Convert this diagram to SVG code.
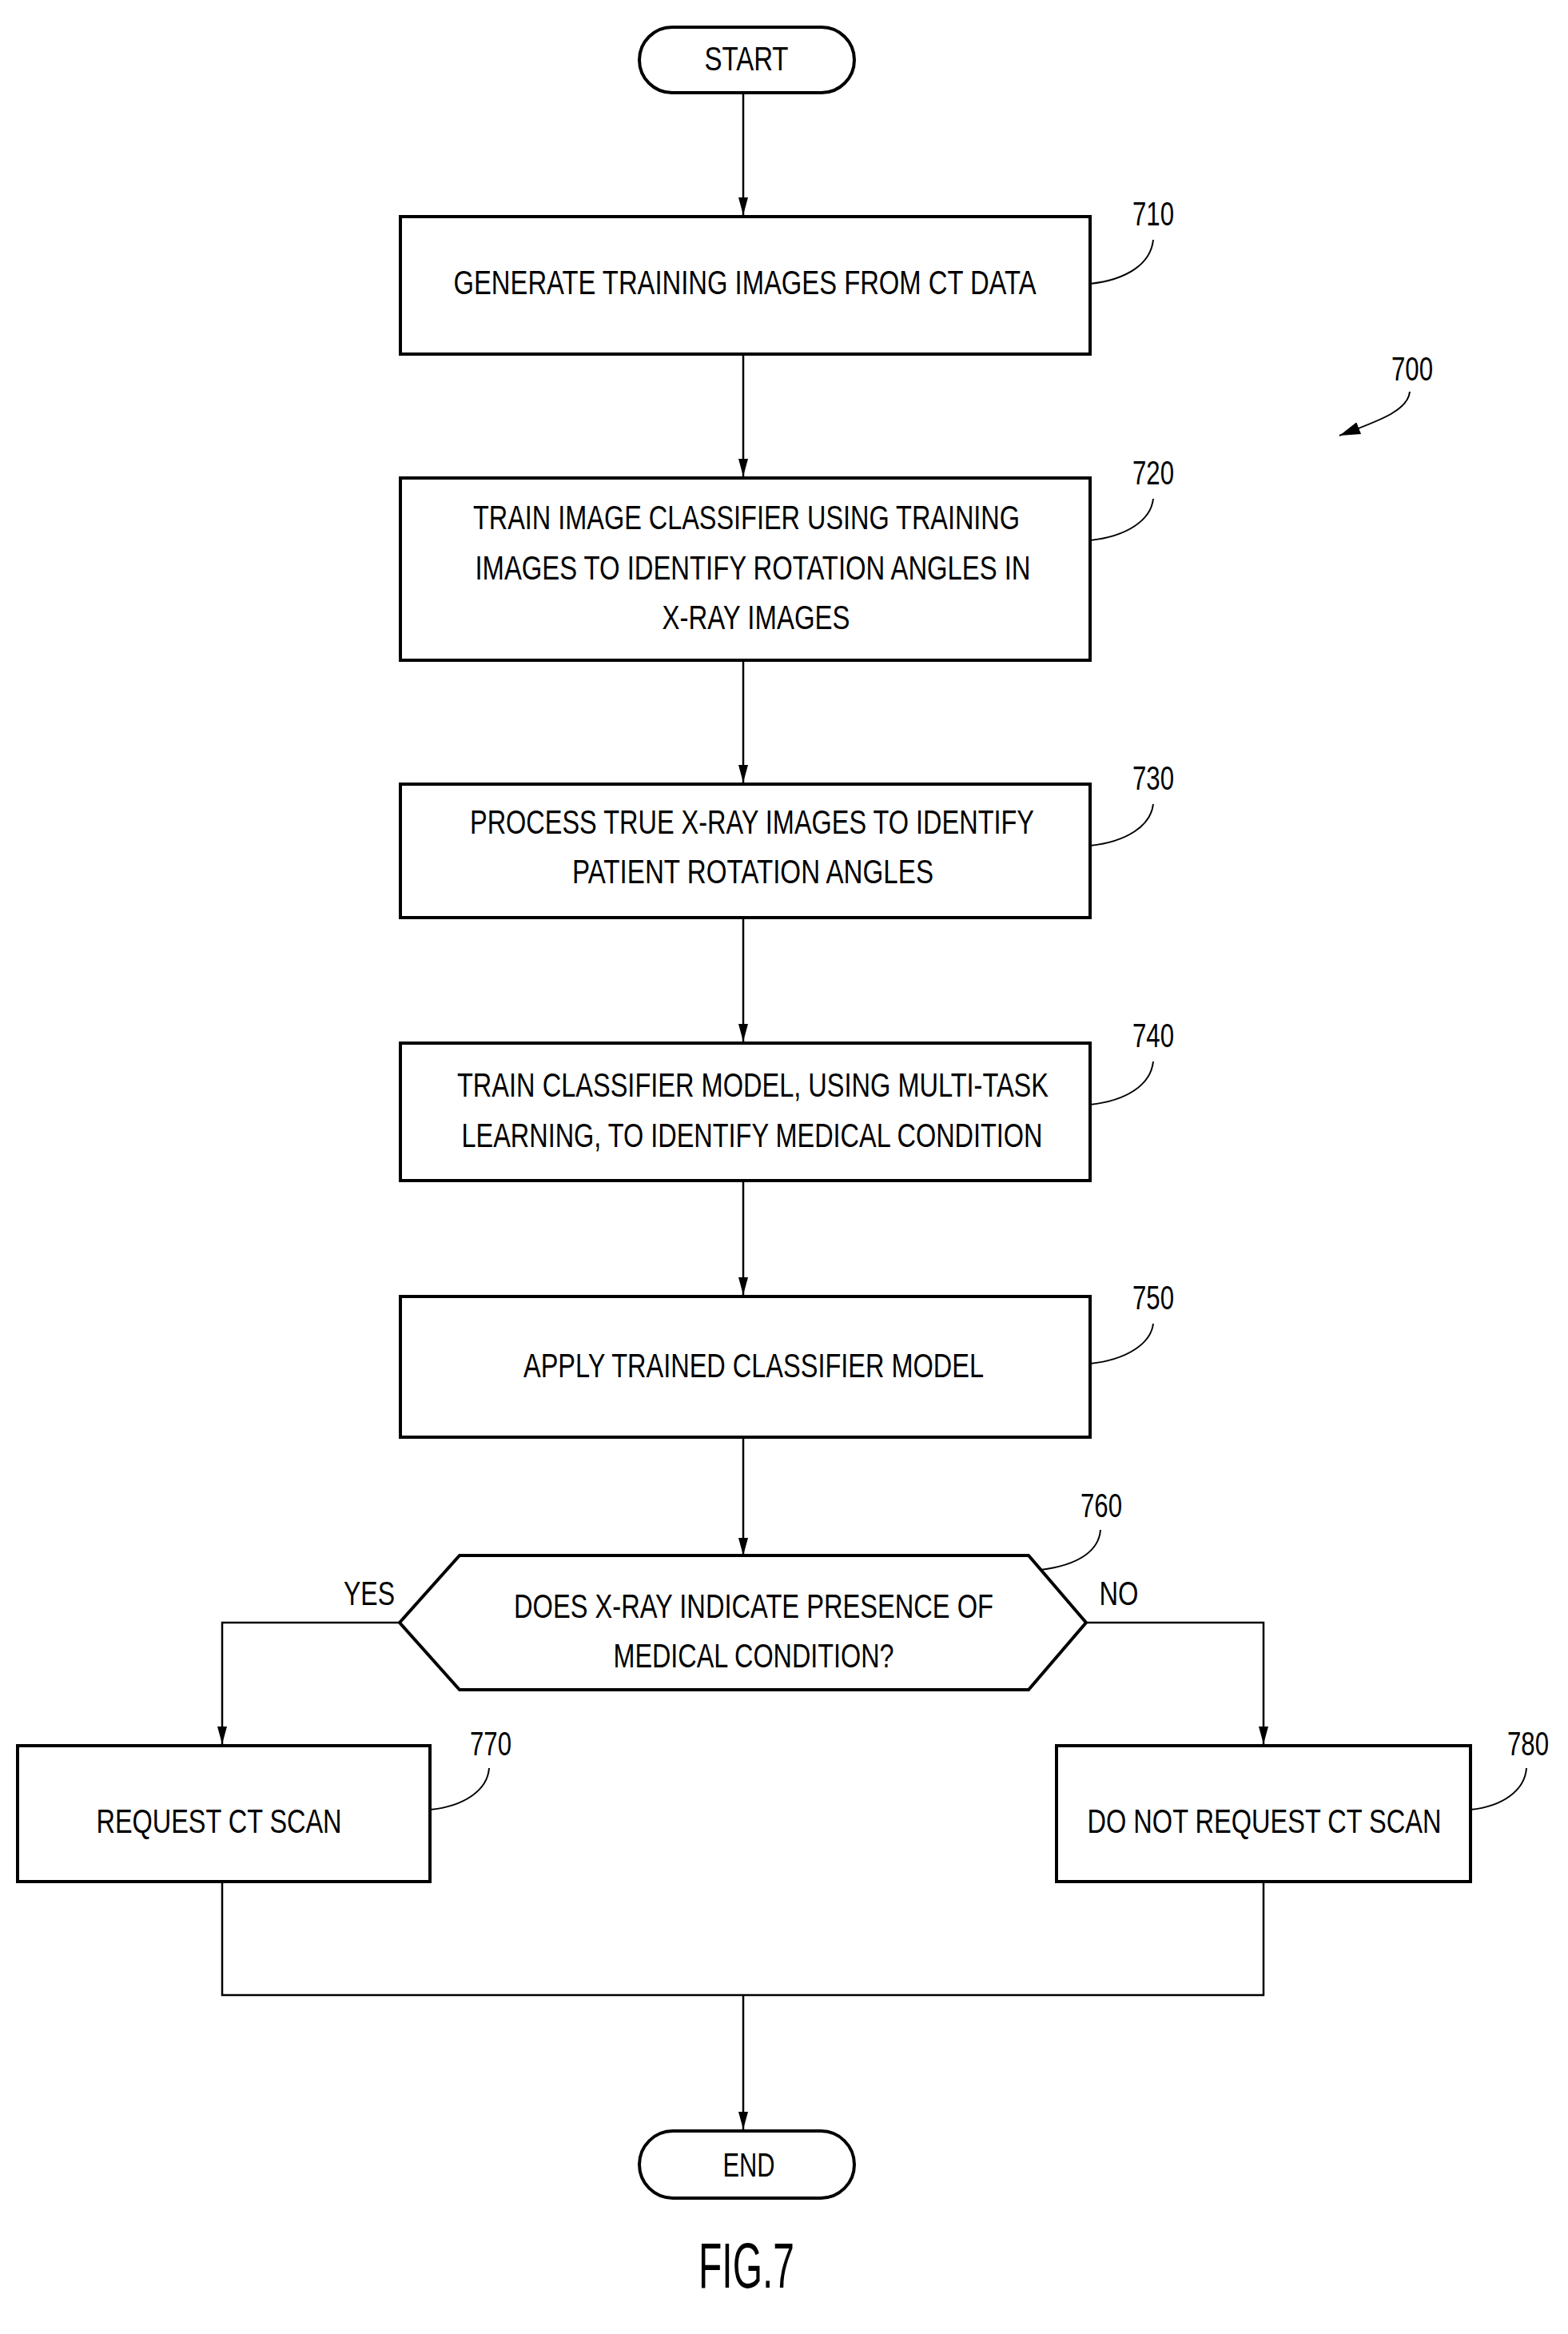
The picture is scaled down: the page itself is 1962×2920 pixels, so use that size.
<svg xmlns="http://www.w3.org/2000/svg" width="1962" height="2920" viewBox="0 0 1962 2920">
<style>
.b{fill:#fff;stroke:#000;stroke-width:4}
.c{fill:none;stroke:#000;stroke-width:2.5}
.l{fill:none;stroke:#000;stroke-width:2}
text{font-family:"Liberation Sans",Arial,sans-serif;font-size:42px;fill:#000;text-anchor:middle}
text.fig{font-size:80px}
</style>
<defs><marker id="a" markerWidth="22" markerHeight="12" refX="22" refY="6" orient="auto" markerUnits="userSpaceOnUse" viewBox="0 0 22 12"><path d="M0,0 L22,6 L0,12 Z" fill="#000"/></marker>
<marker id="a2" markerWidth="26" markerHeight="16" refX="26" refY="8" orient="auto" markerUnits="userSpaceOnUse" viewBox="0 0 26 16"><path d="M0,0 L26,8 L0,16 Z" fill="#000"/></marker></defs>
<g id="connectors">
<path class="c" d="M930,116 V269" marker-end="url(#a)"/>
<path class="c" d="M930,443 V596" marker-end="url(#a)"/>
<path class="c" d="M930,826 V979" marker-end="url(#a)"/>
<path class="c" d="M930,1148 V1303" marker-end="url(#a)"/>
<path class="c" d="M930,1477 V1620" marker-end="url(#a)"/>
<path class="c" d="M930,1798 V1946" marker-end="url(#a)"/>
<path class="c" d="M500,2030 H278 V2182" marker-end="url(#a)"/>
<path class="c" d="M1359,2030 H1581 V2182" marker-end="url(#a)"/>
<path class="c" d="M278,2354 V2496 H1581 V2354"/>
<path class="c" d="M930,2496 V2664" marker-end="url(#a)"/>
</g>
<g id="start"><rect class="b" x="800" y="34" width="269" height="82" rx="41"/><text x="934" y="88" textLength="105" lengthAdjust="spacingAndGlyphs">START</text></g>
<g id="n710"><rect class="b" x="501" y="271" width="863" height="172"/><text x="932" y="368" textLength="729" lengthAdjust="spacingAndGlyphs">GENERATE TRAINING IMAGES FROM CT DATA</text>
<text x="1443" y="282" textLength="52" lengthAdjust="spacingAndGlyphs">710</text><path class="l" d="M1364,355 C1410,350 1440,330 1443,300"/></g>
<g id="n720"><rect class="b" x="501" y="598" width="863" height="228"/>
<text x="934" y="662" textLength="684" lengthAdjust="spacingAndGlyphs">TRAIN IMAGE CLASSIFIER USING TRAINING</text>
<text x="942" y="725" textLength="695" lengthAdjust="spacingAndGlyphs">IMAGES TO IDENTIFY ROTATION ANGLES IN</text>
<text x="946" y="787" textLength="235" lengthAdjust="spacingAndGlyphs">X-RAY IMAGES</text>
<text x="1443" y="606" textLength="52" lengthAdjust="spacingAndGlyphs">720</text><path class="l" d="M1364,676 C1410,671 1440,651 1443,624"/></g>
<g id="n730"><rect class="b" x="501" y="981" width="863" height="167"/>
<text x="941" y="1043" textLength="706" lengthAdjust="spacingAndGlyphs">PROCESS TRUE X-RAY IMAGES TO IDENTIFY</text>
<text x="942" y="1105" textLength="452" lengthAdjust="spacingAndGlyphs">PATIENT ROTATION ANGLES</text>
<text x="1443" y="988" textLength="52" lengthAdjust="spacingAndGlyphs">730</text><path class="l" d="M1364,1058 C1410,1053 1440,1033 1443,1006"/></g>
<g id="n740"><rect class="b" x="501" y="1305" width="863" height="172"/>
<text x="942" y="1372" textLength="740" lengthAdjust="spacingAndGlyphs">TRAIN CLASSIFIER MODEL, USING MULTI-TASK</text>
<text x="941" y="1435" textLength="727" lengthAdjust="spacingAndGlyphs">LEARNING, TO IDENTIFY MEDICAL CONDITION</text>
<text x="1443" y="1310" textLength="52" lengthAdjust="spacingAndGlyphs">740</text><path class="l" d="M1364,1382 C1410,1377 1440,1357 1443,1328"/></g>
<g id="n750"><rect class="b" x="501" y="1622" width="863" height="176"/>
<text x="943" y="1723" textLength="576" lengthAdjust="spacingAndGlyphs">APPLY TRAINED CLASSIFIER MODEL</text>
<text x="1443" y="1638" textLength="52" lengthAdjust="spacingAndGlyphs">750</text><path class="l" d="M1364,1706 C1410,1701 1440,1681 1443,1656"/></g>
<g id="n760"><path class="b" d="M500,2030 L575,1946 H1287 L1359,2030 L1287,2114 H575 Z"/>
<text x="943" y="2024" textLength="600" lengthAdjust="spacingAndGlyphs">DOES X-RAY INDICATE PRESENCE OF</text>
<text x="943" y="2086" textLength="351" lengthAdjust="spacingAndGlyphs">MEDICAL CONDITION?</text>
<text x="1378" y="1898" textLength="52" lengthAdjust="spacingAndGlyphs">760</text><path class="l" d="M1302,1964 C1350,1958 1375,1940 1377,1914"/>
<text x="462" y="2008" textLength="64" lengthAdjust="spacingAndGlyphs">YES</text>
<text x="1400" y="2008" textLength="49" lengthAdjust="spacingAndGlyphs">NO</text></g>
<g id="n770"><rect class="b" x="22" y="2184" width="516" height="170"/>
<text x="274" y="2293" textLength="307" lengthAdjust="spacingAndGlyphs">REQUEST CT SCAN</text>
<text x="614" y="2196" textLength="52" lengthAdjust="spacingAndGlyphs">770</text><path class="l" d="M538,2264 C580,2260 610,2240 612,2212"/></g>
<g id="n780"><rect class="b" x="1322" y="2184" width="518" height="170"/>
<text x="1582" y="2293" textLength="443" lengthAdjust="spacingAndGlyphs">DO NOT REQUEST CT SCAN</text>
<text x="1912" y="2196" textLength="52" lengthAdjust="spacingAndGlyphs">780</text><path class="l" d="M1840,2264 C1880,2260 1908,2240 1910,2212"/></g>
<g id="end"><rect class="b" x="800" y="2666" width="269" height="84" rx="42"/><text x="937" y="2723" textLength="65" lengthAdjust="spacingAndGlyphs">END</text></g>
<g id="ref700"><text x="1767" y="476" textLength="52" lengthAdjust="spacingAndGlyphs">700</text>
<path class="l" d="M1764,490 C1762,515 1720,528 1676,545" marker-end="url(#a2)"/></g>
<text class="fig" x="934" y="2862" textLength="120" lengthAdjust="spacingAndGlyphs">FIG.7</text>
</svg>
